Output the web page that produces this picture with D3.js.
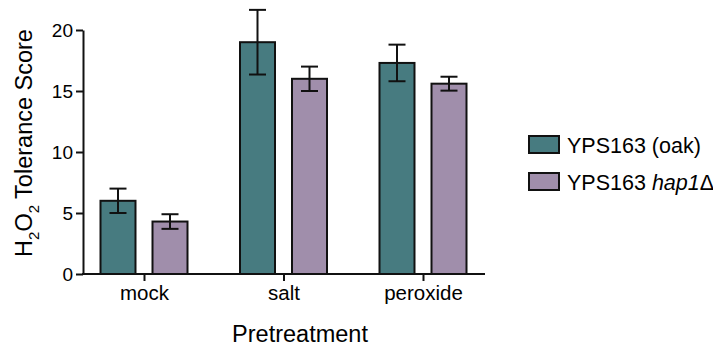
<!DOCTYPE html>
<html>
<head>
<meta charset="utf-8">
<script src="https://cdn.jsdelivr.net/npm/d3@7"></script>
<style>
  body { margin: 0; background: #fff; }
  text { font-family: "Liberation Sans", Arial, sans-serif; fill: #000; }
</style>
</head>
<body>
<svg id="chart" width="713" height="348"></svg>
<script>
// data
var categories = ['mock', 'salt', 'peroxide'];
var seriesNames = ['oak', 'hap1'];
var oakMeans = [6.0, 19.0, 17.3];
var oakErr = [1.0, 2.65, 1.5];
var hap1Means = [4.3, 16.0, 15.6];
var hap1Err = [0.6, 1.0, 0.57];
var yTicks = [0, 5, 10, 15, 20];
var colors = { oak: '#477b80', hap1: '#a08eab' };

var rows = [];
categories.forEach(function (c, i) {
  rows.push({ cat: c, series: 'oak', mean: oakMeans[i], err: oakErr[i] });
  rows.push({ cat: c, series: 'hap1', mean: hap1Means[i], err: hap1Err[i] });
});

var svg = d3.select('#chart');

var x = d3.scalePoint().domain(categories).range([144, 423]);
var xSub = d3.scaleBand().domain(seriesNames).range([-43.5, 43.5]).paddingInner(0.327);
var y = d3.scaleLinear().domain([0, 20]).range([274, 30]);

// bars
svg.append('g').selectAll('rect').data(rows).enter()
  .append('rect')
  .attr('x', function (d) { return x(d.cat) + xSub(d.series); })
  .attr('y', function (d) { return y(d.mean); })
  .attr('width', xSub.bandwidth())
  .attr('height', function (d) { return y(0) - y(d.mean); })
  .style('fill', function (d) { return colors[d.series]; })
  .style('stroke', '#111')
  .style('stroke-width', 2);

// error bars
var capW = 17;
var eb = svg.append('g').selectAll('g').data(rows).enter().append('g')
  .attr('transform', function (d) {
    return 'translate(' + (x(d.cat) + xSub(d.series) + xSub.bandwidth() / 2) + ',0)';
  })
  .style('stroke', '#111')
  .style('stroke-width', 2);
eb.append('line')
  .attr('y1', function (d) { return y(d.mean + d.err); })
  .attr('y2', function (d) { return y(d.mean - d.err); });
eb.append('line')
  .attr('x1', -capW / 2).attr('x2', capW / 2)
  .attr('y1', function (d) { return y(d.mean + d.err); })
  .attr('y2', function (d) { return y(d.mean + d.err); });
eb.append('line')
  .attr('x1', -capW / 2).attr('x2', capW / 2)
  .attr('y1', function (d) { return y(d.mean - d.err); })
  .attr('y2', function (d) { return y(d.mean - d.err); });

// y axis
var yAxis = svg.append('g')
  .attr('transform', 'translate(83,0)')
  .call(d3.axisLeft(y).tickValues(yTicks).tickSize(7).tickSizeOuter(0).tickPadding(3));
yAxis.select('.domain').style('stroke', '#111').style('stroke-width', 2);
yAxis.selectAll('.tick line').style('stroke', '#111').style('stroke-width', 2);
yAxis.selectAll('.tick text').style('font-size', '19px').attr('font-family', null);

// x axis
var xAxis = svg.append('g')
  .attr('transform', 'translate(0,' + y(0) + ')')
  .call(d3.axisBottom(x).tickSize(7).tickPadding(4));
xAxis.select('.domain').remove();
xAxis.append('line')
  .attr('x1', 82).attr('x2', 485)
  .style('stroke', '#111').style('stroke-width', 2);
xAxis.selectAll('.tick line').style('stroke', '#111').style('stroke-width', 2);
xAxis.selectAll('.tick text').style('font-size', '20.5px').attr('font-family', null);

// axis titles
svg.append('text')
  .attr('x', 300).attr('y', 342)
  .attr('text-anchor', 'middle')
  .style('font-size', '23.5px')
  .text('Pretreatment');

var yt = svg.append('text')
  .attr('transform', 'translate(32,143) rotate(-90)')
  .attr('text-anchor', 'middle')
  .style('font-size', '23.5px');
yt.append('tspan').text('H');
yt.append('tspan').attr('dy', 7).style('font-size', '15px').text('2');
yt.append('tspan').attr('dy', -7).text('O');
yt.append('tspan').attr('dy', 7).style('font-size', '15px').text('2');
yt.append('tspan').attr('dy', -7).text(' Tolerance Score');

// legend
var legend = svg.append('g').attr('transform', 'translate(529,136)');
var items = legend.selectAll('g').data(seriesNames).enter().append('g')
  .attr('transform', function (d, i) { return 'translate(0,' + (i * 37) + ')'; });
items.append('rect')
  .attr('width', 30).attr('height', 17)
  .style('fill', function (d) { return colors[d]; })
  .style('stroke', '#111').style('stroke-width', 2);
var labels = items.append('text')
  .attr('x', 38).attr('y', 16.5)
  .style('font-size', '21.5px');
labels.filter(function (d) { return d === 'oak'; }).text('YPS163 (oak)');
var hl = labels.filter(function (d) { return d === 'hap1'; });
hl.append('tspan').text('YPS163 ');
hl.append('tspan').style('font-style', 'italic').text('hap1');
hl.append('tspan').text('\u0394');
</script>
</body>
</html>
